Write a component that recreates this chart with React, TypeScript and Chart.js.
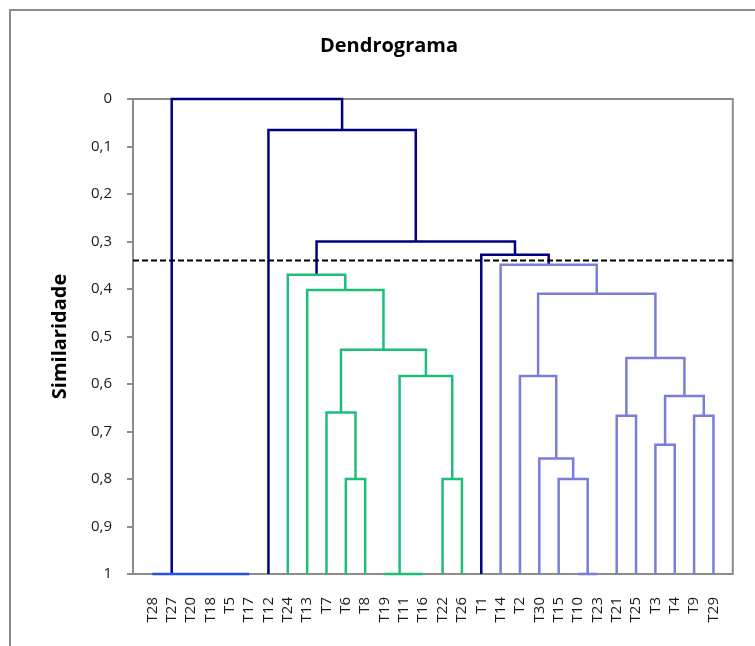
import { useEffect, useRef } from 'react';
import { Chart, registerables } from 'chart.js';

Chart.register(...registerables);
Chart.defaults.font.family = "'Open Sans', sans-serif";

// Leaf order along the horizontal axis
const leafLabels = [
  'T28', 'T27', 'T20', 'T18', 'T5', 'T17', 'T12', 'T24', 'T13', 'T7',
  'T6', 'T8', 'T19', 'T11', 'T16', 'T22', 'T26', 'T1', 'T14', 'T2',
  'T30', 'T15', 'T10', 'T23', 'T21', 'T25', 'T3', 'T4', 'T9', 'T29',
];

// Similarity tick labels (0 at the top, 1 at the bottom)
const yTickLabels = ['0', '0,1', '0,2', '0,3', '0,4', '0,5', '0,6', '0,7', '0,8', '0,9', '1'];

// Identical leaves (similarity 1): [node, members, leaf column of the common stem]
type Tie = [string, string[], number];
const blueTies: Tie[] = [['L', ['T28', 'T27', 'T20', 'T18', 'T5', 'T17'], 2]];
const greenTies: Tie[] = [['C', ['T19', 'T11', 'T16'], 13.78]];
const purpleTies: Tie[] = [['P1', ['T10', 'T23'], 23.5]];

// Merges: [node, left child, right child, similarity]
type Link = [string, string, string, number];
const greenLinks: Link[] = [
  ['A', 'T6', 'T8', 0.8],
  ['B', 'T7', 'A', 0.66],
  ['D', 'T22', 'T26', 0.8],
  ['E', 'C', 'D', 0.583],
  ['F', 'B', 'E', 0.528],
  ['G', 'T13', 'F', 0.402],
  ['H', 'T24', 'G', 0.37],
];
const purpleLinks: Link[] = [
  ['P2', 'T15', 'P1', 0.8],
  ['P3', 'T30', 'P2', 0.757],
  ['P4', 'T2', 'P3', 0.583],
  ['P5', 'T21', 'T25', 0.667],
  ['P6', 'T3', 'T4', 0.728],
  ['P7', 'T9', 'T29', 0.667],
  ['P8', 'P6', 'P7', 0.625],
  ['P9', 'P5', 'P8', 0.545],
  ['P10', 'P4', 'P9', 0.41],
  ['P11', 'T14', 'P10', 0.349],
];
const navyLinks: Link[] = [
  ['N1', 'T1', 'P11', 0.328],
  ['N2', 'H', 'N1', 0.3],
  ['N3', 'T12', 'N2', 0.065],
  ['N4', 'L', 'N3', 0],
];

// Cut level used to define the groups
const cutLevel = 0.34;

const NAVY = '#000080';
const GREEN = '#1cbe79';
const PURPLE = '#7a7ed8';
const BLUE = '#2152f0';
const GRAY = '#8c8c8c';

type Pt = { x: number; y: number };

function buildDatasets() {
  const pos: Record<string, number> = {};
  const height: Record<string, number> = {};
  leafLabels.forEach((name, i) => {
    pos[name] = i + 1;
    height[name] = 1;
  });

  const line = (data: Pt[], color: string, extra: Record<string, unknown> = {}) => ({
    data,
    showLine: true,
    borderColor: color,
    backgroundColor: color,
    borderWidth: 2.5,
    pointRadius: 0,
    borderCapStyle: 'butt',
    borderJoinStyle: 'miter',
    clip: false,
    ...extra,
  });

  const sets: any[] = [];
  // dashed cut line drawn on top of everything
  sets.push(
    line([{ x: 0, y: cutLevel }, { x: leafLabels.length + 1, y: cutLevel }], '#000', {
      borderDash: [6, 3],
      borderWidth: 2,
    }),
  );

  const addTies = (ties: Tie[], color: string) => {
    ties.forEach(([id, members, stem]) => {
      pos[id] = stem;
      height[id] = 1;
      const xs = members.map((m) => pos[m]);
      sets.push(line([{ x: Math.min(...xs), y: 1 }, { x: Math.max(...xs), y: 1 }], color));
    });
  };
  const addLinks = (links: Link[], color: string) => {
    links.forEach(([id, a, b, sim]) => {
      pos[id] = (pos[a] + pos[b]) / 2;
      height[id] = sim;
      sets.push(
        line(
          [
            { x: pos[a], y: height[a] },
            { x: pos[a], y: sim },
            { x: pos[b], y: sim },
            { x: pos[b], y: height[b] },
          ],
          color,
        ),
      );
    });
  };

  addTies(blueTies, BLUE);
  addTies(greenTies, GREEN);
  addTies(purpleTies, PURPLE);
  addLinks(greenLinks, GREEN);
  addLinks(purpleLinks, PURPLE);
  addLinks(navyLinks, NAVY);
  return sets;
}

const decorations = {
  id: 'decorations',
  beforeDraw(chart: any) {
    const { ctx } = chart;
    ctx.save();
    ctx.strokeStyle = GRAY;
    ctx.lineWidth = 2;
    ctx.beginPath();
    ctx.moveTo(10, chart.height);
    ctx.lineTo(10, 10);
    ctx.lineTo(chart.width, 10);
    ctx.stroke();
    ctx.restore();
  },
  beforeDatasetsDraw(chart: any) {
    const { ctx, chartArea: a } = chart;
    ctx.save();
    ctx.strokeStyle = GRAY;
    ctx.lineWidth = 2;
    ctx.strokeRect(a.left, a.top, a.right - a.left, a.bottom - a.top);
    ctx.restore();
  },
  afterDraw(chart: any) {
    const { ctx } = chart;
    ctx.save();
    ctx.font = "bold 20px 'Open Sans', sans-serif";
    ctx.fillStyle = '#000';
    ctx.textAlign = 'center';
    ctx.textBaseline = 'alphabetic';
    ctx.fillText('Dendrograma', 389, 52);
    ctx.restore();
  },
};

export default function App() {
  const ref = useRef<HTMLCanvasElement>(null);

  useEffect(() => {
    const canvas = ref.current;
    if (!canvas) return;
    const chart = new Chart(canvas, {
      type: 'scatter',
      data: { datasets: buildDatasets() },
      options: {
        responsive: false,
        animation: false,
        devicePixelRatio: 1,
        layout: { padding: { top: 99, right: 17, bottom: 0, left: 0 } },
        plugins: {
          legend: { display: false },
          tooltip: { enabled: false },
          title: { display: false },
        },
        scales: {
          x: {
            type: 'linear',
            min: 0,
            max: leafLabels.length + 1,
            afterBuildTicks: (s: any) => {
              s.ticks = leafLabels.map((_, i) => ({ value: i + 1 }));
            },
            afterFit: (s: any) => {
              s.height = 72;
            },
            ticks: {
              autoSkip: false,
              minRotation: 90,
              maxRotation: 90,
              padding: 23,
              color: '#1a1a1a',
              font: { size: 15 },
              callback: (v: any) => leafLabels[Math.round(Number(v)) - 1] ?? '',
            },
            grid: { display: false, drawTicks: false },
            border: { display: false },
          },
          y: {
            type: 'linear',
            reverse: true,
            min: 0,
            max: 1,
            afterFit: (s: any) => {
              s.width = 133;
            },
            ticks: {
              stepSize: 0.1,
              padding: 15,
              color: '#1a1a1a',
              font: { size: 15 },
              callback: (v: any) => yTickLabels[Math.round(Number(v) * 10)] ?? '',
            },
            grid: {
              drawOnChartArea: false,
              drawTicks: true,
              tickLength: 6,
              color: GRAY,
              lineWidth: 2,
            },
            border: { display: false },
            title: {
              display: true,
              text: 'Similaridade',
              color: '#000',
              font: { size: 20, weight: 'bold' },
              padding: { top: 48, bottom: 0 },
            },
          },
        },
      } as any,
      plugins: [decorations],
    });
    return () => chart.destroy();
  }, []);

  return (
    <div style={{ position: 'absolute', left: 0, top: 0, width: 755, height: 646 }}>
      <canvas ref={ref} width={755} height={646} style={{ display: 'block' }} />
    </div>
  );
}
